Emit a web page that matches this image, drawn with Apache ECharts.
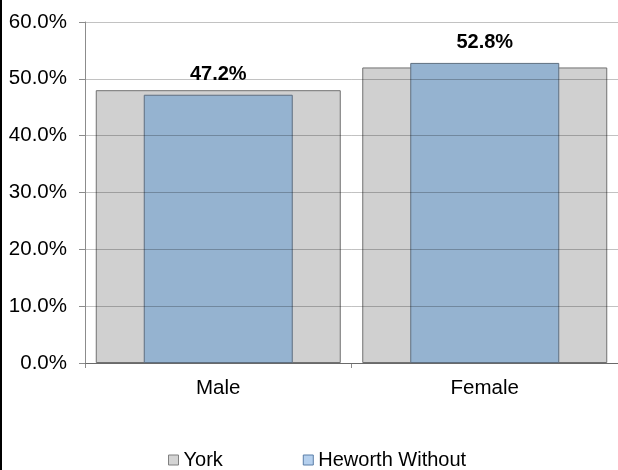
<!DOCTYPE html>
<html>
<head>
<meta charset="utf-8">
<script src="https://cdn.jsdelivr.net/npm/echarts@6/dist/echarts.min.js"></script>
<style>
  html, body { margin: 0; padding: 0; background: #fff; }
  #chart { width: 618px; height: 470px; }
</style>
</head>
<body>
<div id="chart"></div>
<script>
// categories and values (percent)
const categories = ['Male', 'Female'];
const yorkValues = [48.0, 52.0];
const heworthValues = [47.2, 52.8];
const seriesNames = ['York', 'Heworth Without'];

const FONT = '"Liberation Sans", Arial, sans-serif';

const myChart = echarts.init(document.getElementById('chart'));

const option = {
  animation: false,
  backgroundColor: '#fff',
  textStyle: { fontFamily: FONT },
  // plot runs a little past the right edge of the picture
  grid: { left: 85, width: 538, top: 22, bottom: 107, containLabel: false },
  legend: {
    data: [
      { name: seriesNames[0], itemStyle: { color: '#d4d4d4', borderColor: '#808080', borderWidth: 1 } },
      { name: seriesNames[1], itemStyle: { color: '#b5d0ee', borderColor: '#5b7fa8', borderWidth: 1 } }
    ],
    left: 163,
    top: 445,
    icon: 'rect',
    itemWidth: 10,
    itemHeight: 10,
    itemGap: 80,
    textStyle: { fontSize: 20, color: '#000', fontFamily: FONT }
  },
  xAxis: [{
    type: 'category',
    data: categories,
    axisLine: { lineStyle: { color: '#8c8c8c', width: 1 } },
    axisTick: { show: true, length: 5, lineStyle: { color: '#8c8c8c' } },
    axisLabel: { fontSize: 20.5, color: '#000', margin: 15, fontFamily: FONT }
  }, {
    type: 'category',
    data: categories,
    show: false
  }],
  yAxis: {
    type: 'value',
    min: 0,
    max: 60,
    interval: 10,
    z: 3,
    axisLine: { show: true, lineStyle: { color: '#8c8c8c' } },
    axisTick: { show: true, length: 6, lineStyle: { color: '#8c8c8c' } },
    axisLabel: {
      fontSize: 20.5, color: '#000', margin: 18, fontFamily: FONT,
      formatter: v => v.toFixed(1) + '%'
    },
    splitLine: { lineStyle: { color: 'rgba(0,0,0,0.24)', width: 1 } }
  },
  series: [{
    name: seriesNames[0],
    type: 'bar',
    xAxisIndex: 0,
    barWidth: 245,
    data: yorkValues,
    itemStyle: { color: '#d0d0d0', borderColor: '#707070', borderWidth: 1 }
  }, {
    name: seriesNames[1],
    type: 'bar',
    xAxisIndex: 1,
    barWidth: 149,
    data: heworthValues,
    itemStyle: { color: '#95b3d0', borderColor: '#5f6f80', borderWidth: 1 },
    label: {
      show: true,
      position: 'top',
      distance: 10,
      fontSize: 20,
      fontWeight: 'bold',
      color: '#000',
      fontFamily: FONT,
      formatter: p => p.value.toFixed(1) + '%'
    }
  }],
  graphic: [{
    type: 'rect',
    left: 0,
    top: 0,
    shape: { width: 2, height: 470 },
    style: { fill: '#000' }
  }]
};

myChart.setOption(option);
</script>
</body>
</html>
